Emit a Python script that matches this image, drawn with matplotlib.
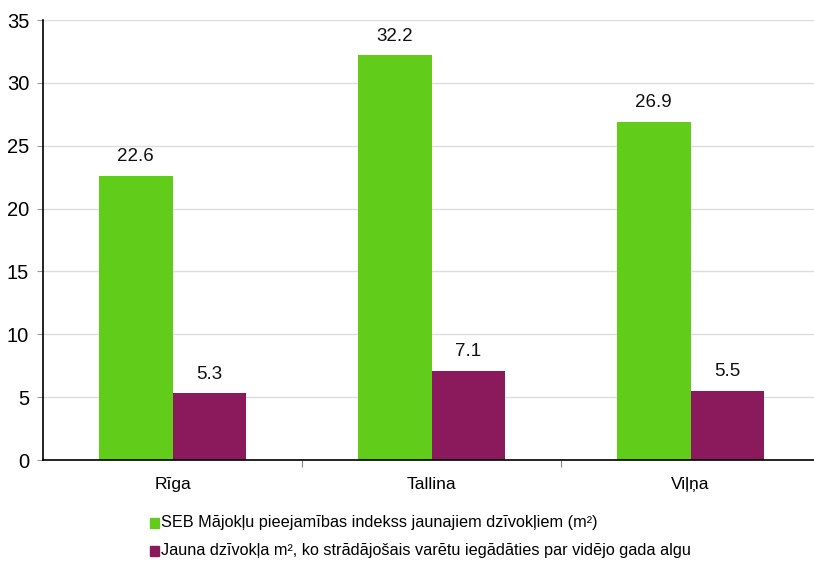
import matplotlib.pyplot as plt
import numpy as np
from matplotlib.patches import Rectangle

plt.rcParams['font.family'] = ['Liberation Sans', 'DejaVu Sans']

cities = ['Rīga', 'Tallina', 'Viļņa']
index_m2 = [22.6, 32.2, 26.9]
salary_m2 = [5.3, 7.1, 5.5]
series_names = ['SEB Mājokļu pieejamības indekss jaunajiem dzīvokļiem (m²)',
                'Jauna dzīvokļa m², ko strādājošais varētu iegādāties par vidējo gada algu']
colors = ['#62CC1A', '#8A1A5C']

fig = plt.figure(figsize=(8.14, 5.61), dpi=100)
ax = fig.add_axes([43 / 814, 1 - 460 / 561, 777 / 814, 440 / 561])

x = np.arange(len(cities))
w = 0.2857
b1 = ax.bar(x - w / 2, index_m2, w, color=colors[0], zorder=2)
b2 = ax.bar(x + w / 2, salary_m2, w, color=colors[1], zorder=2)

for bars, vals in [(b1, index_m2), (b2, salary_m2)]:
    for r, v in zip(bars, vals):
        ax.text(r.get_x() + r.get_width() / 2, v + 0.85, f'{v:.1f}',
                ha='center', va='bottom', fontsize=13.5, color='#111111')

ax.set_ylim(0, 35)
ax.set_xlim(-0.5, 2.5)
ax.set_yticks(range(0, 36, 5))
ax.yaxis.grid(True, color='#dddddd', linewidth=1, zorder=0)
ax.tick_params(axis='y', labelsize=14.5, length=4, color='#999999', pad=6)

# category labels and divider ticks
ax.set_xticks([0.5, 1.5])
ax.set_xticklabels([])
ax.tick_params(axis='x', length=5, color='#888888')
for i, c in enumerate(cities):
    ax.text(i, -1.35, c, ha='center', va='top', fontsize=12.5)

for s in ['top', 'right']:
    ax.spines[s].set_visible(False)
ax.spines['left'].set_linewidth(1.2)
ax.spines['bottom'].set_linewidth(1.2)

# legend drawn under the chart
for k, (name, col) in enumerate(zip(series_names, colors)):
    y = 1 - (523 + 28 * k) / 561
    fig.patches.append(Rectangle((150 / 814, y - 5 / 561), 9 / 814, 10 / 561,
                                 transform=fig.transFigure, color=col))
    fig.text(161 / 814, y, name, va='center', ha='left', fontsize=11.7)

fig.savefig('out.png', dpi=100)
